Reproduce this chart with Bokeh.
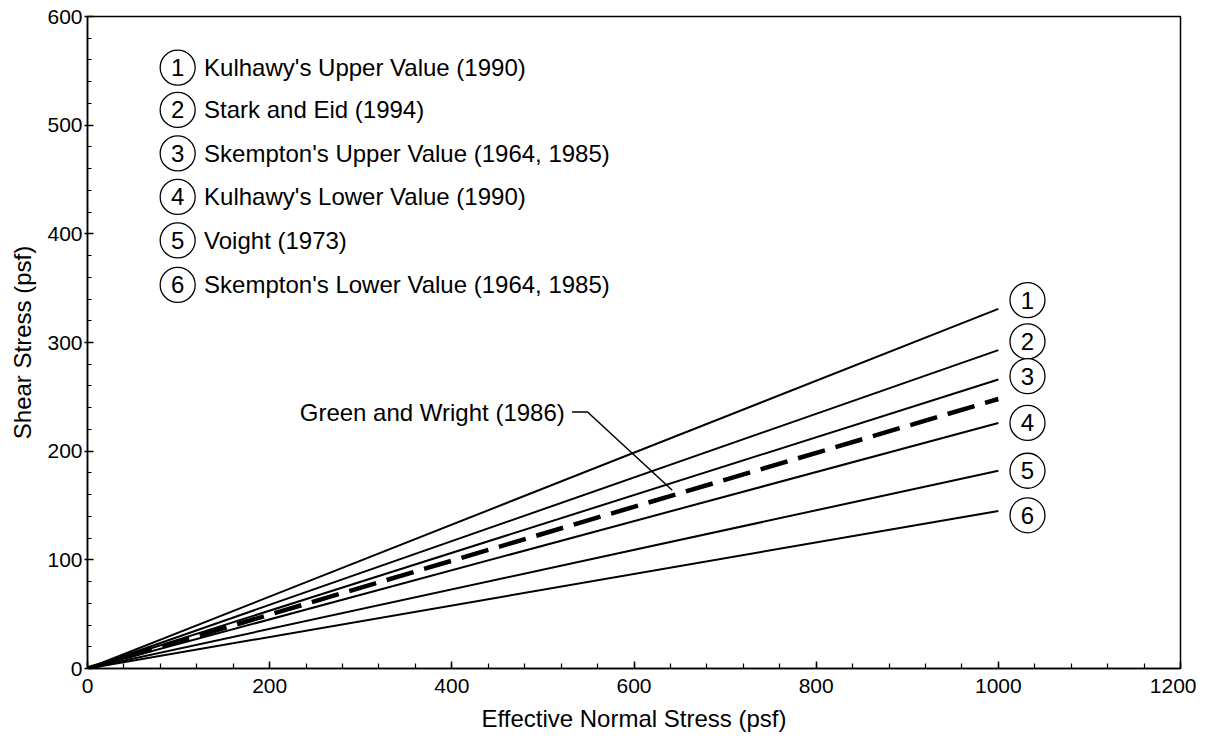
from bokeh.plotting import figure
from bokeh.models import Range1d, SingleIntervalTicker, ColumnDataSource
from bokeh.core.properties import value
from bokeh.embed import file_html
from bokeh.resources import INLINE

FONT = "Liberation Sans"

# ---- data ----
series_ids = ["1", "2", "3", "4", "5", "6"]
series_names = [
    "Kulhawy's Upper Value (1990)",
    "Stark and Eid  (1994)",
    "Skempton's Upper Value (1964, 1985)",
    "Kulhawy's Lower Value (1990)",
    "Voight (1973)",
    "Skempton's Lower Value (1964, 1985)",
]
normal_stress = [0, 1000]
shear_at_1000 = [331, 293, 266, 226, 182, 145]
green_wright_shear = [0, 248]
green_wright_label = "Green and Wright (1986)"

# label placement (data units)
legend_circle_x = 99
legend_text_x = 128
legend_y = [553, 514, 474, 434, 394, 353]
end_circle_x = 1032
end_circle_y = [339, 301, 269, 226, 182, 141]
gw_text_x = 524
gw_text_y = 236
gw_leader_x = [532, 549, 642]
gw_leader_y = [236, 236, 164]

p = figure(width=1196, height=734, output_backend="svg", toolbar_location=None,
           x_range=Range1d(0, 1200), y_range=Range1d(0, 600),
           min_border_left=87, min_border_right=16, min_border_top=16, min_border_bottom=66)
p.grid.visible = False
p.outline_line_color = "black"
p.outline_line_width = 1.5
p.background_fill_color = "white"
p.border_fill_color = "white"

# solid lines
for v in shear_at_1000:
    p.line(normal_stress, [0, v], line_color="black", line_width=2)

# dashed Green and Wright
p.line(normal_stress, green_wright_shear, line_color="black", line_width=4.5, line_dash="28 11")

# leader line and label
p.line(gw_leader_x, gw_leader_y, line_color="black", line_width=1.5)
p.text(x=[gw_text_x], y=[gw_text_y], text=[green_wright_label], text_font=value(FONT),
       text_font_size="24px", text_align="right", text_baseline="middle", text_color="black")

# legend (upper left)
src_leg = ColumnDataSource(dict(x=[legend_circle_x] * 6, tx=[legend_text_x] * 6, y=legend_y,
                                ids=series_ids, names=series_names))
p.scatter("x", "y", source=src_leg, marker="circle", size=35, fill_color="white",
          line_color="black", line_width=1.3)
p.text("x", "y", text="ids", source=src_leg, text_font=value(FONT), text_font_size="24px",
       text_align="center", text_baseline="middle", text_color="black")
p.text("tx", "y", text="names", source=src_leg, text_font=value(FONT), text_font_size="24px",
       text_align="left", text_baseline="middle", text_color="black")

# end-of-line circle labels
src_end = ColumnDataSource(dict(x=[end_circle_x] * 6, y=end_circle_y, ids=series_ids))
p.scatter("x", "y", source=src_end, marker="circle", size=35, fill_color="white",
          line_color="black", line_width=1.3)
p.text("x", "y", text="ids", source=src_end, text_font=value(FONT), text_font_size="24px",
       text_align="center", text_baseline="middle", text_color="black")

# axes
p.xaxis.ticker = SingleIntervalTicker(interval=200, num_minor_ticks=5)
p.yaxis.ticker = SingleIntervalTicker(interval=100, num_minor_ticks=5)
p.xaxis.axis_label = "Effective Normal Stress (psf)"
p.yaxis.axis_label = "Shear Stress (psf)"
for ax in (p.xaxis[0], p.yaxis[0]):
    ax.axis_label_text_font = FONT
    ax.axis_label_text_font_size = "24px"
    ax.axis_label_text_font_style = "normal"
    ax.axis_label_text_color = "black"
    ax.major_label_text_font = FONT
    ax.major_label_text_font_size = "21px"
    ax.major_label_text_color = "black"
    ax.axis_line_color = "black"
    ax.axis_line_width = 1.5
    ax.major_tick_line_color = "black"
    ax.minor_tick_line_color = "black"
    ax.major_tick_line_width = 1.5
    ax.minor_tick_line_width = 1.2

p.xaxis.major_tick_in = 7
p.xaxis.major_tick_out = 0
p.xaxis.minor_tick_in = 5
p.xaxis.minor_tick_out = 0
p.xaxis.major_label_standoff = 10
p.xaxis.axis_label_standoff = 9

p.yaxis.major_tick_in = 6
p.yaxis.major_tick_out = 3
p.yaxis.minor_tick_in = 4
p.yaxis.minor_tick_out = 0
p.yaxis.major_label_standoff = 2
p.yaxis.axis_label_standoff = 8

open("out.html", "w").write(file_html(p, INLINE))
